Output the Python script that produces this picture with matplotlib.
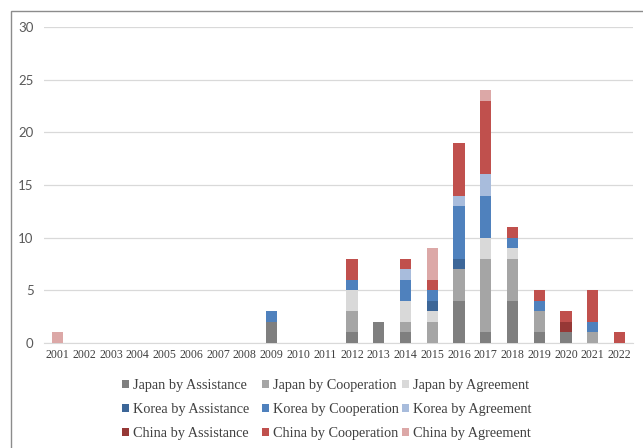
import numpy as np
import matplotlib.pyplot as plt
from matplotlib.patches import Rectangle

years = [str(y) for y in range(2001, 2023)]

# counts per year (2001..2022)
japan_assist = [0, 0, 0, 0, 0, 0, 0, 0, 2, 0, 0, 1, 2, 1, 0, 4, 1, 4, 1, 1, 0, 0]
japan_coop   = [0, 0, 0, 0, 0, 0, 0, 0, 0, 0, 0, 2, 0, 1, 2, 3, 7, 4, 2, 0, 1, 0]
japan_agree  = [0, 0, 0, 0, 0, 0, 0, 0, 0, 0, 0, 2, 0, 2, 1, 0, 2, 1, 0, 0, 0, 0]
korea_assist = [0, 0, 0, 0, 0, 0, 0, 0, 0, 0, 0, 0, 0, 0, 1, 1, 0, 0, 0, 0, 0, 0]
korea_coop   = [0, 0, 0, 0, 0, 0, 0, 0, 1, 0, 0, 1, 0, 2, 1, 5, 4, 1, 1, 0, 1, 0]
korea_agree  = [0, 0, 0, 0, 0, 0, 0, 0, 0, 0, 0, 0, 0, 1, 0, 1, 2, 0, 0, 0, 0, 0]
china_assist = [0, 0, 0, 0, 0, 0, 0, 0, 0, 0, 0, 0, 0, 0, 0, 0, 0, 0, 0, 1, 0, 0]
china_coop   = [0, 0, 0, 0, 0, 0, 0, 0, 0, 0, 0, 2, 0, 1, 1, 5, 7, 1, 1, 1, 3, 1]
china_agree  = [1, 0, 0, 0, 0, 0, 0, 0, 0, 0, 0, 0, 0, 0, 3, 0, 1, 0, 0, 0, 0, 0]

series = [
    ("Japan by Assistance", japan_assist, "#7f7f7f"),
    ("Japan by Cooperation", japan_coop, "#a5a5a5"),
    ("Japan by Agreement", japan_agree, "#d9d9d9"),
    ("Korea by Assistance", korea_assist, "#3c6698"),
    ("Korea by Cooperation", korea_coop, "#4f81bd"),
    ("Korea by Agreement", korea_agree, "#a8bcdc"),
    ("China by Assistance", china_assist, "#963836"),
    ("China by Cooperation", china_coop, "#c0504d"),
    ("China by Agreement", china_agree, "#dca8a7"),
]

SERIF = ["Liberation Serif", "DejaVu Serif"]

fig = plt.figure(figsize=(6.43, 4.48), dpi=100)
ax = fig.add_axes([44 / 643, 105 / 448, 589 / 643, 316 / 448])

x = np.arange(len(years))
bottom = np.zeros(len(years))
handles = {}
for name, vals, col in series:
    vals = np.array(vals, dtype=float)
    b = ax.bar(x, vals, 0.42, bottom=bottom, color=col, label=name, zorder=3)
    handles[name] = b
    bottom += vals

ax.set_xlim(-0.5, len(years) - 0.5)
ax.set_ylim(0, 30)
ax.set_yticks(range(0, 31, 5))
ax.set_xticks(x)
ax.set_xticklabels(years, family=SERIF, fontsize=8.6, color="#404040")
ax.set_yticklabels([str(v) for v in range(0, 31, 5)], family="Lato",
                   fontsize=9.5, color="#595959")
ax.tick_params(axis="both", length=0)
ax.tick_params(axis="x", pad=4)
ax.tick_params(axis="y", pad=7.5)
ax.grid(axis="y", color="#d9d9d9", linewidth=0.9, zorder=0)
for s in ["top", "right", "left"]:
    ax.spines[s].set_visible(False)
ax.spines["bottom"].set_color("#d9d9d9")

# chart area border
fig.patches.append(Rectangle((11 / 643, -0.1), 1.1, (448 - 11) / 448 + 0.1,
                             transform=fig.transFigure, fill=False,
                             edgecolor="#8c8c8c", linewidth=1.0))

# legend: three fixed-width columns like Excel
columns = [
    ["Japan by Assistance", "Korea by Assistance", "China by Assistance"],
    ["Japan by Cooperation", "Korea by Cooperation", "China by Cooperation"],
    ["Japan by Agreement", "Korea by Agreement", "China by Agreement"],
]
col_x = [122, 262, 402]
for cx, names in zip(col_x, columns):
    leg = fig.legend([handles[n] for n in names], names,
                     loc="center left", bbox_to_anchor=(cx / 643, 38.5 / 448),
                     frameon=False, borderpad=0, borderaxespad=0,
                     prop={"family": SERIF, "size": 10.3},
                     handlelength=0.5, handleheight=0.5, handletextpad=0.3,
                     labelspacing=0.78)
    for t in leg.get_texts():
        t.set_color("#404040")

fig.savefig("out.png", dpi=100)
